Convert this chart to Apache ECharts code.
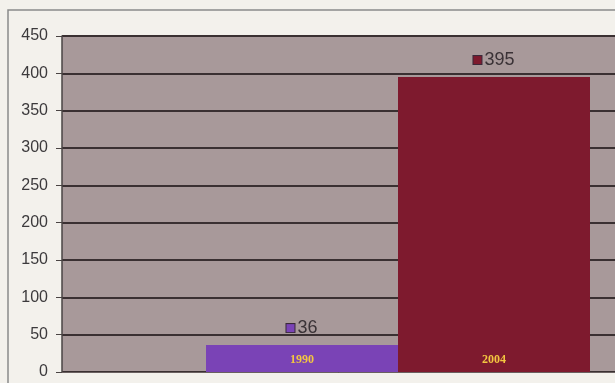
<!DOCTYPE html>
<html><head><meta charset="utf-8">
<script src="https://cdn.jsdelivr.net/npm/echarts@6/dist/echarts.min.js"></script>
<style>html,body{margin:0;padding:0;background:#f3f1ec}#c{width:615px;height:383px}</style>
</head><body><div id="c"></div>
<script>
const categories = [''];
const years = ['1990', '2004'];
const values = [36, 395];
const yTicks = [0, 50, 100, 150, 200, 250, 300, 350, 400, 450];
const colors = ['#7a43b6', '#7e1a2e'];

const chart = echarts.init(document.getElementById('c'));
const series = [];
years.forEach((yr, i) => {
  series.push({
    type: 'bar', name: yr, stack: 's' + i, data: [values[i]],
    barWidth: 192, barGap: '0%',
    itemStyle: { color: colors[i] },
    label: { show: true, position: 'insideBottom', distance: 6, formatter: yr,
      color: '#f3c640', fontFamily: 'Liberation Serif', fontWeight: 'bold', fontSize: 12 },
    silent: true
  });
  series.push({
    type: 'bar', name: yr + '_lbl', stack: 's' + i, data: [0],
    barWidth: 192, barGap: '0%',
    itemStyle: { color: 'transparent' },
    label: { show: true, position: 'top', distance: 8,
      formatter: '{sq|}{v|' + values[i] + '}',
      rich: {
        sq: { width: 8, height: 8, backgroundColor: colors[i], borderColor: '#3a2a3a', borderWidth: 1 },
        v: { fontFamily: 'Liberation Sans Narrow, Liberation Sans', fontSize: 18, color: '#3a3236', padding: [0, 0, 0, 3] }
      } },
    silent: true
  });
});

chart.setOption({
  animation: false,
  backgroundColor: '#f3f1ec',
  graphic: [{ type: 'rect', shape: { x: 8, y: 10, width: 700, height: 400 },
    style: { fill: 'none', stroke: '#8a8a8a', lineWidth: 1.5 }, z: -1 }],
  grid: { left: 62, right: -119, top: 36, bottom: 11, show: true, outerBoundsMode: 'none', containLabel: false,
    backgroundColor: '#a8999a', borderWidth: 0 },
  xAxis: { type: 'category', data: categories,
    axisLine: { show: true, lineStyle: { color: '#6a6060', width: 1 } },
    axisTick: { show: false }, axisLabel: { show: false } },
  yAxis: { type: 'value', min: yTicks[0], max: yTicks[yTicks.length - 1], interval: 50,
    axisLine: { show: true, lineStyle: { color: '#4a4444', width: 1.5 } },
    axisTick: { show: true, length: 6, lineStyle: { color: '#4a4444' } },
    axisLabel: { fontFamily: 'Liberation Sans', fontSize: 16, color: '#3c3a3c', margin: 14 },
    splitLine: { show: true, lineStyle: { color: '#3a3032', width: 2 } } },
  series: series
});
</script></body></html>
